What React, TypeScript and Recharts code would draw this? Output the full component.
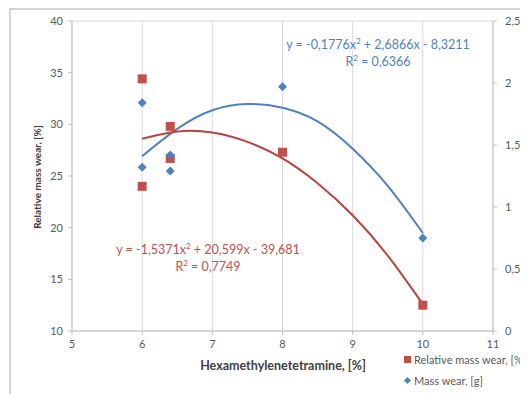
import {
  ComposedChart,
  Scatter,
  Line,
  XAxis,
  YAxis,
  CartesianGrid,
} from "recharts";

// Hexamethylenetetramine content [%] and measured values
const relWearX = [6, 6, 6.4, 6.4, 8, 10];
const relWearY = [34.4, 24.0, 29.8, 26.7, 27.3, 12.5];
const massWearX = [6, 6, 6.4, 6.4, 8, 10];
const massWearY = [1.84, 1.32, 1.42, 1.29, 1.97, 0.75];

// polynomial trend lines
const trendX = [6, 6.5, 7, 7.5, 8, 8.5, 9, 9.5, 10];
const relTrendY = [28.6, 29.3, 29.2, 28.3, 26.7, 24.3, 21.2, 17.3, 12.6];
const massTrendY = [1.41, 1.63, 1.78, 1.83, 1.8, 1.69, 1.47, 1.17, 0.79];

const xTicks = [5, 6, 7, 8, 9, 10, 11];
const leftTicks = [10, 15, 20, 25, 30, 35, 40];
const rightTicks = [0, 0.5, 1, 1.5, 2, 2.5];

const relData = relWearX.map((x, i) => ({ x, rel: relWearY[i] }));
const massData = massWearX.map((x, i) => ({ x, mass: massWearY[i] }));
const relTrend = trendX.map((x, i) => ({ x, relT: relTrendY[i] }));
const massTrend = trendX.map((x, i) => ({ x, massT: massTrendY[i] }));

const RED = "#c0504d";
const BLUE = "#4f81bd";
const FONT = "Lato, 'Open Sans', sans-serif";

const comma = (v: number) => String(v).replace(".", ",");

// marker shapes, sized like the original ones
const SquareMark = (props: any) => {
  const { cx, cy } = props;
  return <rect x={cx - 4.5} y={cy - 4.5} width={9} height={9} fill={RED} />;
};
const DiamondMark = (props: any) => {
  const { cx, cy } = props;
  return (
    <path
      d={`M${cx},${cy - 4.5}L${cx + 4.5},${cy}L${cx},${cy + 4.5}L${cx - 4.5},${cy}Z`}
      fill={BLUE}
    />
  );
};

const Sup = ({ children }: { children: any }) => (
  <span style={{ fontSize: 8, position: "relative", top: -5 }}>{children}</span>
);

const LegendBox = () => (
  <div
    style={{
      position: "absolute",
      left: 396,
      top: 345,
      fontSize: 11,
      color: "#595959",
      lineHeight: "13px",
    }}
  >
    <div style={{ display: "flex", alignItems: "center", whiteSpace: "nowrap" }}>
      <span style={{ width: 7, height: 7, background: RED, marginRight: 3 }} />
      Relative mass wear, [%]
    </div>
    <div style={{ display: "flex", alignItems: "center", marginTop: 8, whiteSpace: "nowrap" }}>
      <span
        style={{
          width: 5,
          height: 5,
          background: BLUE,
          transform: "rotate(45deg)",
          marginLeft: 1,
          marginRight: 4,
        }}
      />
      Mass wear, [g]
    </div>
  </div>
);

export default function App() {
  const tickStyle = { fontSize: 11, fill: "#595959", fontFamily: FONT };
  return (
    <div
      style={{
        position: "relative",
        width: 520,
        height: 386,
        overflow: "hidden",
        fontFamily: FONT,
      }}
    >
      <div
        style={{
          position: "absolute",
          left: 1,
          top: 0,
          width: 600,
          height: 500,
          borderLeft: "2px solid #d4d4d4",
          borderTop: "2px solid #d4d4d4",
        }}
      />
      <ComposedChart
        width={520}
        height={386}
        margin={{ top: 13, right: 0, left: 0, bottom: 33 }}
      >
        <CartesianGrid stroke="#d9d9d9" />
        <XAxis
          dataKey="x"
          type="number"
          domain={[5, 11]}
          ticks={xTicks}
          height={30}
          tick={tickStyle}
          tickSize={4}
          tickMargin={5}
          stroke="#bfbfbf"
          allowDuplicatedCategory={false}
        />
        <YAxis
          yAxisId="left"
          type="number"
          domain={[10, 40]}
          ticks={leftTicks}
          width={64}
          tick={tickStyle}
          tickSize={4}
          tickMargin={5}
          stroke="#bfbfbf"
        />
        <YAxis
          yAxisId="right"
          orientation="right"
          type="number"
          domain={[0, 2.5]}
          ticks={rightTicks}
          width={35}
          tick={{ ...tickStyle, textAnchor: "start" }}
          tickSize={4}
          tickMargin={8}
          tickFormatter={comma}
          stroke="#bfbfbf"
        />
        <Line
          yAxisId="right"
          data={massTrend}
          dataKey="massT"
          type="natural"
          stroke={BLUE}
          strokeWidth={2}
          dot={false}
          isAnimationActive={false}
        />
        <Line
          yAxisId="left"
          data={relTrend}
          dataKey="relT"
          type="natural"
          stroke="#b5433f"
          strokeWidth={2}
          dot={false}
          isAnimationActive={false}
        />
        <Scatter
          yAxisId="left"
          name="Relative mass wear, [%]"
          data={relData}
          dataKey="rel"
          fill={RED}
          shape={SquareMark}
          isAnimationActive={false}
        />
        <Scatter
          yAxisId="right"
          name="Mass wear, [g]"
          data={massData}
          dataKey="mass"
          fill={BLUE}
          shape={DiamondMark}
          isAnimationActive={false}
        />
      </ComposedChart>

      <LegendBox />

      {/* axis titles */}
      <div
        style={{
          position: "absolute",
          left: 29,
          top: 169,
          transform: "translate(-50%, -50%) rotate(-90deg)",
          fontSize: 10,
          fontWeight: 700,
          color: "#404040",
          whiteSpace: "nowrap",
        }}
      >
        Relative mass wear, [%]
      </div>
      <div
        style={{
          position: "absolute",
          left: 524,
          top: 167,
          transform: "translate(-50%, -50%) rotate(-90deg)",
          fontSize: 10,
          fontWeight: 700,
          color: "#404040",
          whiteSpace: "nowrap",
        }}
      >
        Mass wear, [g]
      </div>
      <div
        style={{
          position: "absolute",
          left: 275,
          top: 357,
          transform: "translate(-50%, -50%)",
          fontSize: 12.5,
          fontWeight: 700,
          color: "#404040",
          whiteSpace: "nowrap",
        }}
      >
        Hexamethylenetetramine, [%]
      </div>

      {/* trend line equations */}
      <div
        style={{
          position: "absolute",
          left: 370,
          top: 29,
          transform: "translateX(-50%)",
          fontSize: 12.5,
          color: BLUE,
          textAlign: "center",
          lineHeight: "16px",
          whiteSpace: "nowrap",
        }}
      >
        <div>
          y = -0,1776x<Sup>2</Sup> + 2,6866x - 8,3211
        </div>
        <div>
          R<Sup>2</Sup> = 0,6366
        </div>
      </div>
      <div
        style={{
          position: "absolute",
          left: 200,
          top: 234,
          transform: "translateX(-50%)",
          fontSize: 12.5,
          color: RED,
          textAlign: "center",
          lineHeight: "16px",
          whiteSpace: "nowrap",
        }}
      >
        <div>
          y = -1,5371x<Sup>2</Sup> + 20,599x - 39,681
        </div>
        <div>
          R<Sup>2</Sup> = 0,7749
        </div>
      </div>
    </div>
  );
}
